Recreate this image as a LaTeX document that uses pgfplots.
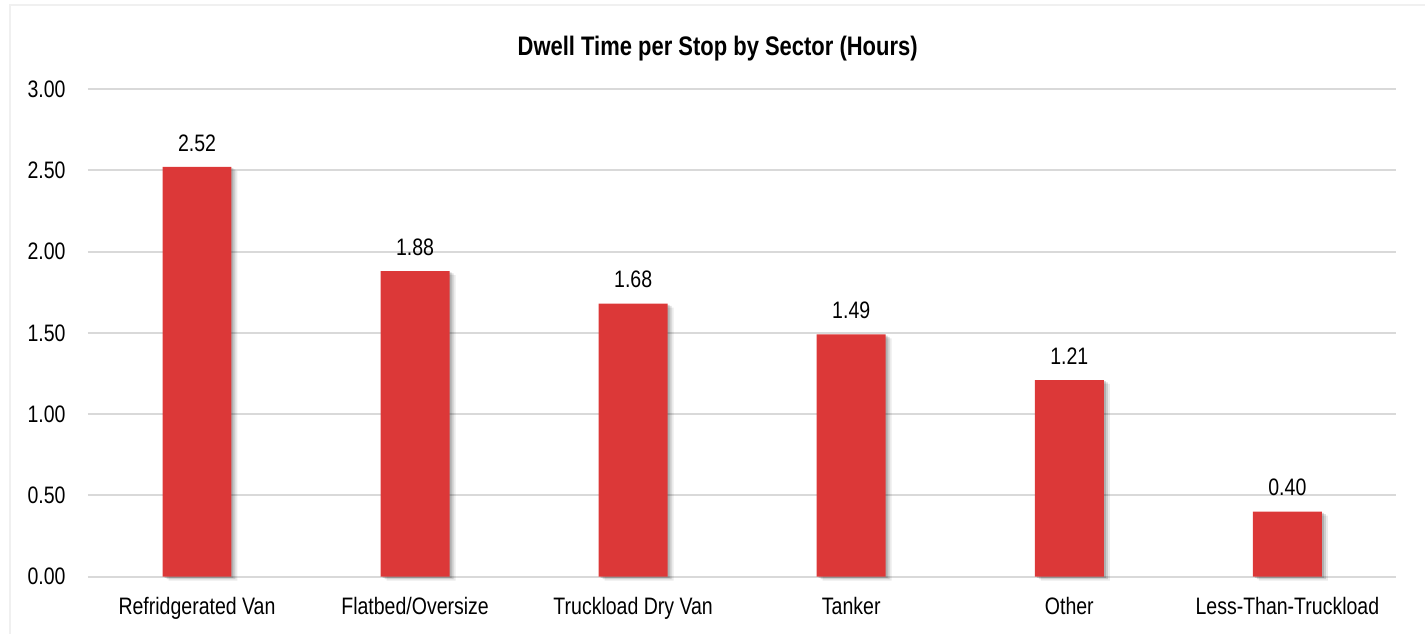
\documentclass[border=0pt]{standalone}
\usepackage{pgfplots}
\pgfplotsset{compat=1.18}
\usepackage{fontspec}
\setmainfont{Liberation Sans}[FakeStretch=0.82]
\definecolor{barred}{RGB}{220,56,56}
\definecolor{gridgray}{RGB}{217,217,217}
\definecolor{framegray}{RGB}{240,240,240}

\pgfplotstableread{
idx value
0 2.52
1 1.88
2 1.68
3 1.49
4 1.21
5 0.40
}\dwelltable

\begin{document}
\begin{tikzpicture}[x=1pt,y=1pt]
  % canvas 713pt x 317pt
  \path (0,0) rectangle (713,317);
  % faint chart frame
  \draw[framegray, line width=0.6pt] (5,0) -- (5,314.5) -- (713,314.5);
  \node[anchor=base, font=\fontsize{13.4pt}{16pt}\selectfont\bfseries]
    at (359,289) {Dwell Time per Stop by Sector (Hours)};
  \begin{axis}[
    at={(44pt,28.5pt)}, anchor=south west,
    scale only axis,
    width=654.5pt, height=244pt,
    xmin=-0.5, xmax=5.5,
    ymin=0, ymax=3,
    ybar, bar width=34.5pt,
    axis line style={draw=none},
    major tick length=0pt,
    ytick={0,0.5,1,1.5,2,2.5,3},
    ymajorgrids,
    grid style={gridgray, line width=1pt},
    xtick=data,
    xticklabels={Refridgerated Van, Flatbed/Oversize, Truckload Dry Van, Tanker, Other, Less-Than-Truckload},
    /pgf/number format/assume math mode=true,
    yticklabel={\pgfmathprintnumber[fixed,fixed zerofill,precision=2]{\tick}},
    yticklabel style={inner sep=0pt, xshift=-11pt},
    xticklabel style={inner sep=0pt, yshift=-10pt, anchor=north},
    tick label style={font=\fontsize{11.9pt}{14pt}\selectfont, text=black},
    nodes near coords={\pgfmathprintnumber[fixed,fixed zerofill,precision=2,assume math mode=true]{\pgfplotspointmeta}},
    every node near coord/.append style={font=\fontsize{11.9pt}{14pt}\selectfont, text=black, inner sep=0pt, anchor=base, yshift=8pt},
    clip=false,
  ]
    \addplot[
      fill=barred, draw=none,
      preaction={fill=black, opacity=0.08, transform canvas={xshift=3pt, yshift=-2pt}},
      preaction={fill=black, opacity=0.12, transform canvas={xshift=2pt, yshift=-1.2pt}},
      preaction={fill=black, opacity=0.15, transform canvas={xshift=1pt, yshift=-0.6pt}},
    ] table[x=idx, y=value] {\dwelltable};
  \end{axis}
\end{tikzpicture}
\end{document}
